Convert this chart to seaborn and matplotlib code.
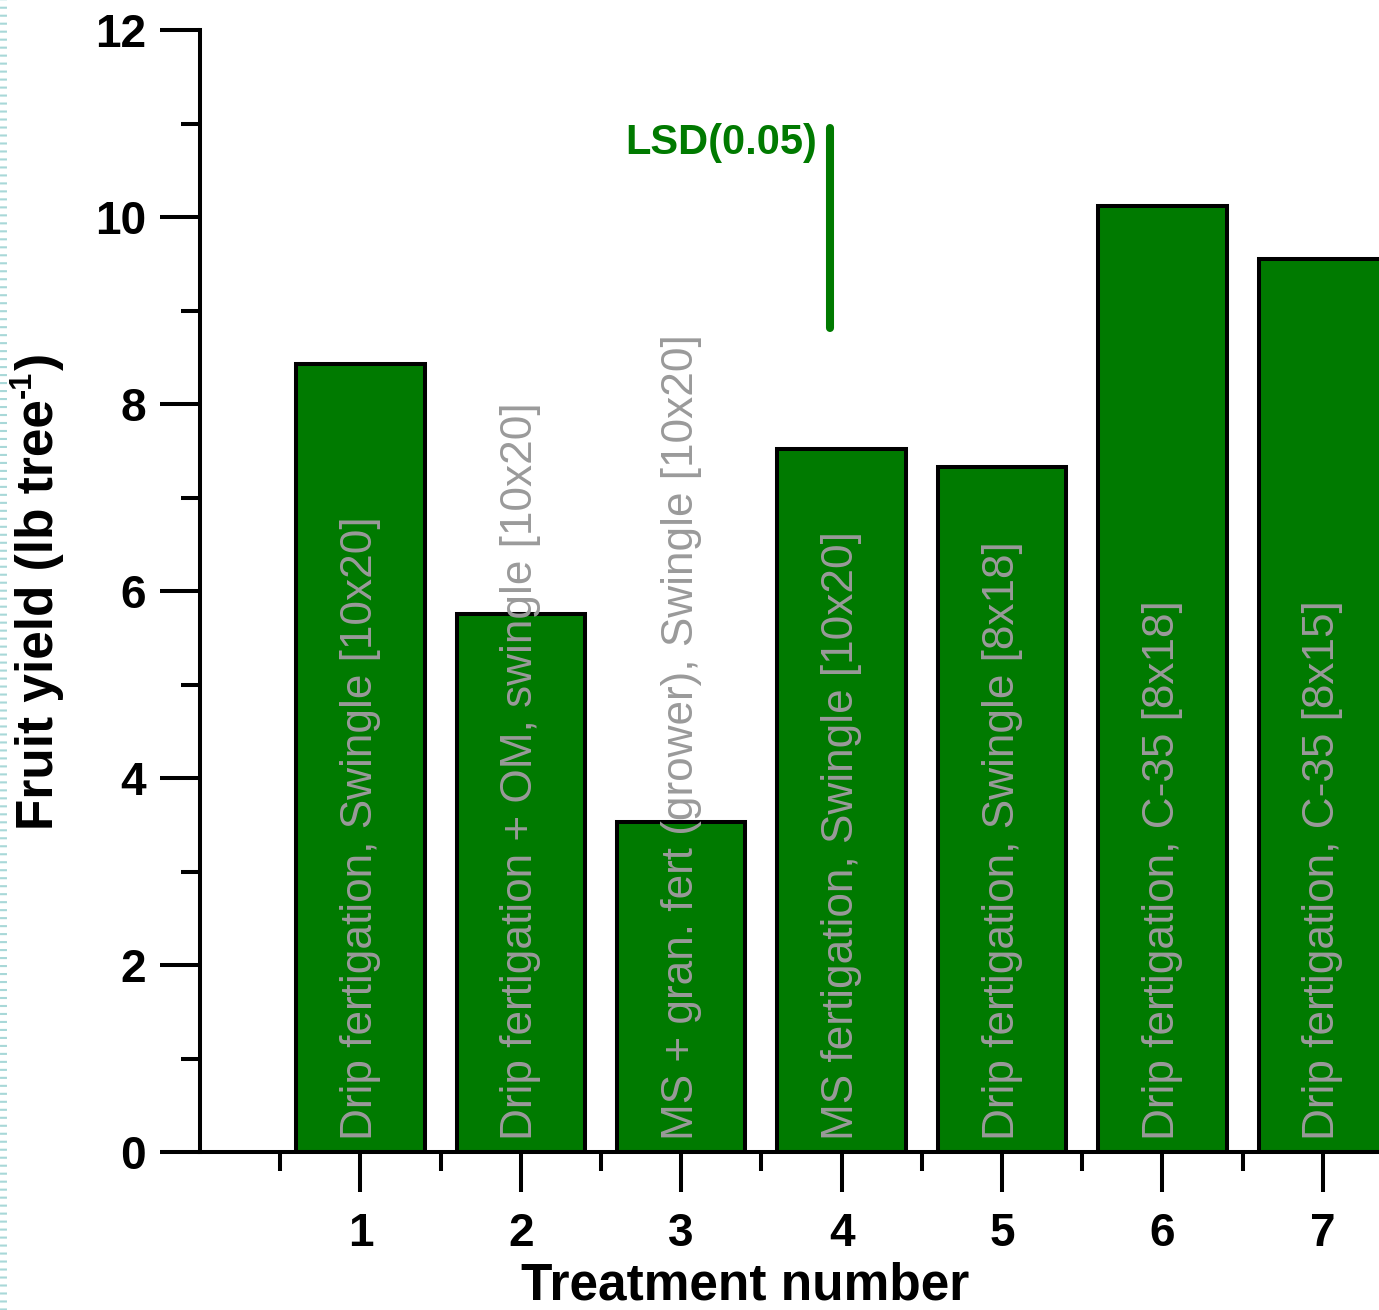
import matplotlib
matplotlib.use("Agg")
import matplotlib.pyplot as plt
from matplotlib.lines import Line2D
from matplotlib.ticker import MultipleLocator, FixedLocator
import seaborn as sns
import pandas as pd

# Treatment data
treatments = [1, 2, 3, 4, 5, 6, 7]
fruit_yield = [8.43, 5.75, 3.53, 7.52, 7.33, 10.12, 9.55]
descriptions = [
    "Drip fertigation, Swingle [10x20]",
    "Drip fertigation + OM, swingle [10x20]",
    "MS + gran. fert (grower), Swingle [10x20]",
    "MS fertigation, Swingle [10x20]",
    "Drip fertigation, Swingle [8x18]",
    "Drip fertigation, C-35 [8x18]",
    "Drip fertigation, C-35 [8x15]",
]
lsd_value = 2.14
lsd_top = 10.95
lsd_x = 3.925

GREEN = "#007a00"
GRAY = "#9a9a9a"

sns.set_style("ticks", rc={"text.color": "black", "axes.labelcolor": "black",
                           "xtick.color": "black", "ytick.color": "black",
                           "axes.edgecolor": "black"})
plt.rcParams["font.family"] = ["Liberation Sans", "DejaVu Sans"]

df = pd.DataFrame({"treatment": treatments, "yield": fruit_yield})

fig = plt.figure(figsize=(13.79, 13.10), dpi=100)
ax = fig.add_axes([200 / 1379, 158 / 1310, 1 - 200 / 1379, 1122 / 1310])

sns.barplot(data=df, x="treatment", y="yield", native_scale=True, width=0.8,
            color=GREEN, saturation=1, edgecolor="black", linewidth=2.9, ax=ax)
for p in ax.patches:
    p.set_facecolor(GREEN)
    p.set_joinstyle("miter")

# Treatment descriptions inside the bars
for t, d in zip(treatments, descriptions):
    ax.text(t, 0.13, d, rotation=90, rotation_mode="anchor", ha="left",
            va="center", color=GRAY, fontsize=31.8, zorder=5)

# LSD bar
ax.plot([lsd_x, lsd_x], [lsd_top - lsd_value, lsd_top], color=GREEN,
        lw=5.8, solid_capstyle="round", zorder=6)
ax.text(lsd_x - 0.075, 10.79, "LSD(0.05)", color=GREEN, fontsize=30,
        fontweight="bold", ha="right", va="center")

ax.set_xlim(0, 7.35)
ax.set_ylim(0, 12)
ax.xaxis.set_major_locator(FixedLocator(treatments))
ax.xaxis.set_minor_locator(FixedLocator([0.5, 1.5, 2.5, 3.5, 4.5, 5.5, 6.5, 7.5]))
ax.yaxis.set_major_locator(MultipleLocator(2))
ax.yaxis.set_minor_locator(MultipleLocator(1))

for side in ["top", "right"]:
    ax.spines[side].set_visible(False)
for side in ["left", "bottom"]:
    ax.spines[side].set_linewidth(2.9)
    ax.spines[side].set_color("black")

ax.tick_params(which="both", bottom=True, left=True, top=False, right=False)
ax.tick_params(which="major", direction="out", length=29, width=2.9,
               labelsize=33, color="black", labelcolor="black")
ax.tick_params(which="minor", direction="out", length=14, width=2.9, color="black")
ax.tick_params(axis="x", which="major", pad=14)
ax.tick_params(axis="y", which="major", pad=10)
for lbl in ax.get_xticklabels() + ax.get_yticklabels():
    lbl.set_fontweight("bold")

ax.set_xlabel("Treatment number", fontsize=37, fontweight="bold", color="black")
ax.xaxis.set_label_coords(0.462, -0.098)
ax.set_ylabel("")

# Y axis title with a hyphen superscript, built from three rotated pieces
fig.canvas.draw()
renderer = fig.canvas.get_renderer()
y_base_x, y_start = 53, 480  # pixel position of the baseline start
main = fig.text(y_base_x / 1379, y_start / 1310, "Fruit yield (lb tree",
                rotation=90, rotation_mode="anchor", ha="left", va="baseline",
                fontsize=37, fontweight="bold")
bb = main.get_window_extent(renderer)
sup = fig.text((y_base_x - 22) / 1379, (bb.y1 + 1) / 1310, "-1",
               rotation=90, rotation_mode="anchor", ha="left", va="baseline",
               fontsize=22, fontweight="bold")
bb2 = sup.get_window_extent(renderer)
fig.text(y_base_x / 1379, (bb2.y1 + 1) / 1310, ")",
         rotation=90, rotation_mode="anchor", ha="left", va="baseline",
         fontsize=37, fontweight="bold")

# Dotted page border on the left edge
fig.add_artist(Line2D([3.5 / 1379, 3.5 / 1379], [0, 1], transform=fig.transFigure,
                      color="#a8d8d8", lw=5, dashes=(0.3, 0.85),
                      solid_capstyle="butt", dash_capstyle="butt"))

fig.savefig("out.png", dpi=100)
